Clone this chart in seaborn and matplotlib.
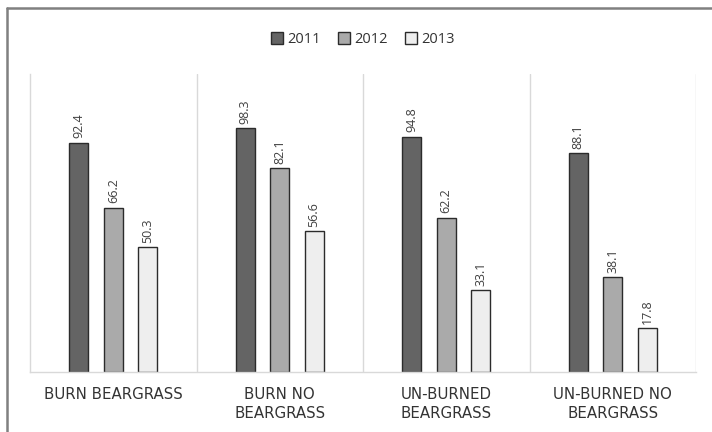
import pandas as pd
import seaborn as sns
import matplotlib.pyplot as plt
from matplotlib.lines import Line2D

groups = ["BURN BEARGRASS", "BURN NO\nBEARGRASS", "UN-BURNED\nBEARGRASS", "UN-BURNED NO\nBEARGRASS"]
years = ["2011", "2012", "2013"]
v2011 = [92.4, 98.3, 94.8, 88.1]
v2012 = [66.2, 82.1, 62.2, 38.1]
v2013 = [50.3, 56.6, 33.1, 17.8]

df = pd.DataFrame({
    "group": groups * 3,
    "year": [y for y in years for _ in groups],
    "value": v2011 + v2012 + v2013,
})

sns.set_theme(style="white")
plt.rcParams["font.family"] = ["Open Sans", "DejaVu Sans"]

fig = plt.figure(figsize=(7.12, 4.32), dpi=100)
ax = fig.add_axes([30 / 712, 60 / 432, 666 / 712, 298 / 432])

colors = ["#646464", "#aaaaaa", "#eeeeee"]
sns.barplot(data=df, x="group", y="value", hue="year", palette=colors,
            width=0.62, gap=0.44, edgecolor="#2b2b2b", linewidth=1.0,
            ax=ax, legend=True)

for c in ax.containers:
    ax.bar_label(c, fmt="%.1f", rotation=90, padding=3, fontsize=9, color="#404040")

ax.set_ylim(0, 120)
ax.set_xlim(-0.5, 3.5)
ax.set_yticks([])
ax.set_xlabel("")
ax.set_ylabel("")
ax.tick_params(axis="x", length=0, pad=11)
for lbl in ax.get_xticklabels():
    lbl.set_family("DejaVu Sans")
    lbl.set_fontsize(10.8)
    lbl.set_color("#333333")
    lbl.set_linespacing(1.35)
for sp in ["top", "right"]:
    ax.spines[sp].set_visible(False)
for sp in ["left", "bottom"]:
    ax.spines[sp].set_color("#d9d9d9")
    ax.spines[sp].set_linewidth(1.0)
for x in [0.5, 1.5, 2.5, 3.5]:
    ax.axvline(x, color="#d9d9d9", lw=1.0)

leg = ax.legend(loc="upper center", bbox_to_anchor=(0.5, 1.185), ncol=3, frameon=False,
                handlelength=0.8, handleheight=0.8, handletextpad=0.3, columnspacing=1.2,
                fontsize=10.5)
for h in leg.legend_handles:
    h.set_edgecolor("#2b2b2b")
for t in leg.get_texts():
    t.set_color("#333333")

# outer border (top and left)
fig.add_artist(Line2D([7 / 712, 1], [1 - 8 / 432, 1 - 8 / 432], color="#808080", lw=1.8))
fig.add_artist(Line2D([7 / 712, 7 / 712], [0, 1 - 8 / 432], color="#808080", lw=1.8))

fig.savefig("out.png", dpi=100)
